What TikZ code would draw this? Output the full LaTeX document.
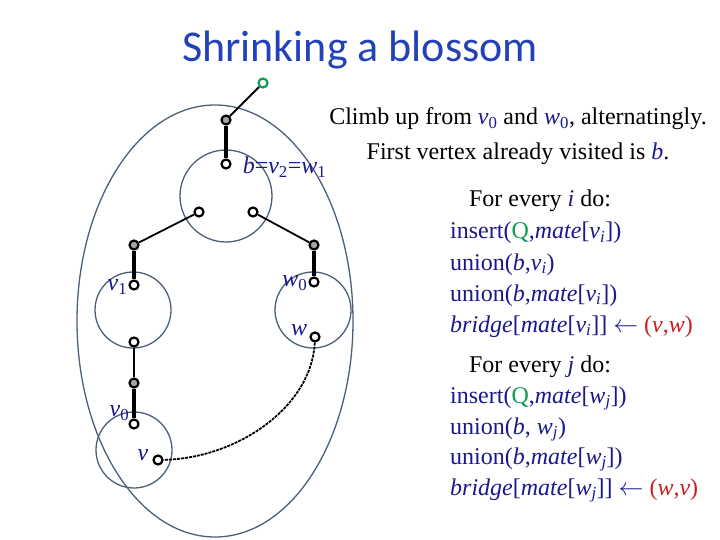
\documentclass[tikz,border=0pt]{standalone}
\usepackage{fontspec}
\setmainfont{Liberation Serif}
\newfontfamily\titlefont{Carlito}
\usepackage{xcolor}
\usetikzlibrary{arrows.meta,positioning,calc}
\definecolor{navy}{RGB}{25,25,140}
\definecolor{ttl}{RGB}{35,65,185}
\definecolor{qgreen}{RGB}{20,155,85}
\definecolor{edgered}{RGB}{200,30,30}
\definecolor{rim}{RGB}{75,95,120}
\newcommand{\vv}[1]{\textit{v}\textsubscript{#1}}
\newcommand{\ww}[1]{\textit{w}\textsubscript{#1}}

\begin{document}
\begin{tikzpicture}[x=1pt,y=-1pt,every node/.style={font=\fontsize{24}{28}\selectfont},
  vtx/.style={circle,draw=black,line width=2.2pt,fill=white,inner sep=0pt,minimum size=9pt},
  gvtx/.style={vtx,fill=gray!70},
  lbl/.style={text=navy,inner sep=1pt},
  code/.style={text=navy,anchor=base west,inner sep=0pt},
  plain/.style={anchor=base,inner sep=0pt},
  blossom/.style={draw=rim,line width=1.3pt}]
\useasboundingbox (0,0) rectangle (720,540);
\node[anchor=base,font=\titlefont\fontsize{44}{48}\selectfont,text=ttl] (title) at (360,62) {Shrinking a blossom};
% blossoms
\draw[blossom] (215,321) ellipse [x radius=138,y radius=216];
\draw[blossom] (226,196) circle [radius=46];
\draw[blossom] (133,310) circle [radius=38];
\draw[blossom] (313,310) circle [radius=38];
\draw[blossom] (134,450) circle [radius=38];
% vertices
\node[vtx,draw=qgreen] (root) at (263,83) {};
\node[gvtx] (g0) at (226,120) {};
\node[vtx] (b) at (226,164) {};
\node[vtx] (bl) at (199,212) {};
\node[vtx] (br) at (253,212) {};
\node[gvtx] (gl) at (134,245) {};
\node[gvtx] (gr) at (314,245) {};
\node[vtx] (v1) at (134,285) {};
\node[vtx] (v1b) at (134,342) {};
\node[gvtx] (gv) at (134,383) {};
\node[vtx] (v0) at (134,424) {};
\node[vtx] (v) at (158,460) {};
\node[vtx] (w0) at (314,282) {};
\node[vtx] (w) at (315,337) {};
% edges
\draw[line width=1.8pt] (root) -- (g0);
\draw[line width=4.5pt] (g0) -- (b);
\draw[line width=1.8pt] (bl) -- (gl);
\draw[line width=1.8pt] (br) -- (gr);
\draw[line width=4.5pt] (gl) -- (v1);
\draw[line width=4.5pt] (gr) -- (w0);
\draw[line width=1.8pt] (v1b) -- (gv);
\draw[line width=4.5pt] (gv) -- (v0);
\draw[line width=1.8pt,dashed,dash pattern=on 3pt off 1pt] (w) .. controls (312,405) and (240,458) .. (v);
% labels
\node[lbl,right=10pt of b,yshift=-3pt] (blbl) {\textit{b}=\vv{2}=\ww{1}};
\node[lbl,left=0pt of v1,yshift=-2pt] (v1lbl) {\vv{1}};
\node[lbl,left=-2pt of v0,yshift=11pt] (v0lbl) {\vv{0}};
\node[lbl,left=0pt of w0,yshift=-1pt] (w0lbl) {\ww{0}};
\node[lbl,left=1pt of w,yshift=7pt] (wlbl) {\textit{w}};
\node[lbl,left=3pt of v,yshift=5pt] (vlbl) {\textit{v}};
% text
\node[plain] (climb) at (518,125) {Climb up from {\color{navy}\vv{0}} and {\color{navy}\ww{0}}, alternatingly.};
\node[plain] (first) at (518,160) {First vertex already visited is {\color{navy}\textit{b}}.};
\node[plain] (fori) at (540,207) {For every {\color{navy}\textit{i}} do:};
\node[code] (ins1) at (450,239) {insert({\color{qgreen}Q},\textit{mate}[\vv{\textit{i}}])};
\node[code] (uni1) at (450,270) {union(\textit{b},\vv{\textit{i}})};
\node[code] (unm1) at (450,301) {union(\textit{b},\textit{mate}[\vv{\textit{i}}])};
\node[code] (br1) at (450,332) {\textit{bridge}[\textit{mate}[\vv{\textit{i}}]] $\leftarrow$ {\color{edgered}(\textit{v},\textit{w})}};
\node[plain] (forj) at (540,372) {For every {\color{navy}\textit{j}} do:};
\node[code] (ins2) at (450,403) {insert({\color{qgreen}Q},\textit{mate}[\ww{\textit{j}}])};
\node[code] (uni2) at (450,434) {union(\textit{b}, \ww{\textit{j}})};
\node[code] (unm2) at (450,464) {union(\textit{b},\textit{mate}[\ww{\textit{j}}])};
\node[code] (br2) at (450,495) {\textit{bridge}[\textit{mate}[\ww{\textit{j}}]] $\leftarrow$ {\color{edgered}(\textit{w},\textit{v})}};
\end{tikzpicture}
\end{document}
